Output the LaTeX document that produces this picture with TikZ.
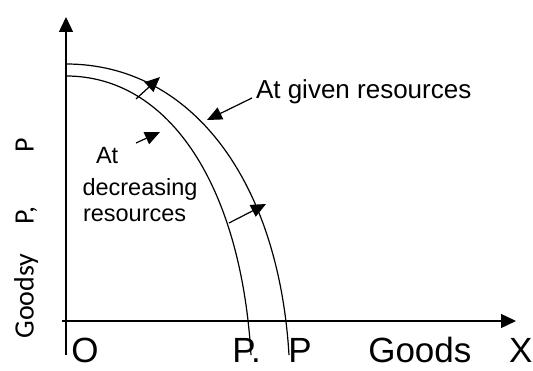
\documentclass[tikz,border=0pt]{standalone}
\usepackage{fontspec}
\setmainfont{Liberation Sans}
\newfontfamily\calib{Carlito}
\usetikzlibrary{arrows.meta}
\tikzset{
  axis/.style={line width=1.4pt},
  curve/.style={line width=1.2pt},
  pointer/.style={line width=1.2pt,-{Triangle[length=15pt,width=13pt]}},
  axisarrow/.style={line width=1.4pt,-{Triangle[length=15pt,width=14pt]}},
  lbl/.style={inner sep=0pt,outer sep=0pt,anchor=base west},
  biglbl/.style={lbl,font=\fontsize{35}{40}\selectfont},
  midlbl/.style={lbl,font=\fontsize{23.5}{27}\selectfont},
  toplbl/.style={lbl,font=\fontsize{26}{30}\selectfont},
  ylbl/.style={lbl,rotate=90,font=\calib\fontsize{28}{32}\selectfont},
}
\begin{document}
\begin{tikzpicture}[x=1pt,y=1pt]
\useasboundingbox (0,0) rectangle (533,370);
% axes
\coordinate (yb) at (66,15);
\coordinate (yt) at (66,353);
\coordinate (xl) at (62,49);
\coordinate (xr) at (516,49);
\draw[axisarrow] (yb) -- (yt);
\draw[axisarrow] (xl) -- (xr);
% curves
\coordinate (o0) at (66,306);
\coordinate (o3) at (289,15);
\coordinate (i0) at (66,294);
\coordinate (i3) at (251,15);
\draw[curve] (o0) .. controls (191,306) and (278.5,190) .. (o3);
\draw[curve] (i0) .. controls (170,294) and (241,183) .. (i3);
% pointers
\coordinate (ua) at (136,271);
\coordinate (ub) at (160,293);
\coordinate (la) at (229,147);
\coordinate (lb) at (266,166);
\coordinate (ga) at (252,272);
\coordinate (gb) at (207,250);
\coordinate (da) at (136,227);
\coordinate (db) at (160,238);
\draw[pointer] (ua) -- (ub);
\draw[pointer] (la) -- (lb);
\draw[pointer] (ga) -- (gb);
\draw[pointer] (da) -- (db);
% texts
\node[toplbl] (given) at (256,271) {At given resources};
\node[midlbl] (at) at (96,206) {At};
\node[midlbl] (decr) at (82.5,174) {decreasing};
\node[midlbl] (res) at (83,148) {resources};
\node[biglbl] (O) at (71.3,8) {O};
\node[biglbl] (P1) at (232.3,8) {P.};
\node[biglbl] (P2) at (288.3,8) {P};
\node[biglbl] (goods) at (368.3,8) {Goods};
\node[biglbl] (X) at (509,8) {X};
\node[ylbl] (goodsy) at (33.5,31.5) {Goodsy};
\node[ylbl] (pc) at (33.5,145.5) {P,};
\node[ylbl] (pp) at (33.5,217.5) {P};
\end{tikzpicture}
\end{document}
